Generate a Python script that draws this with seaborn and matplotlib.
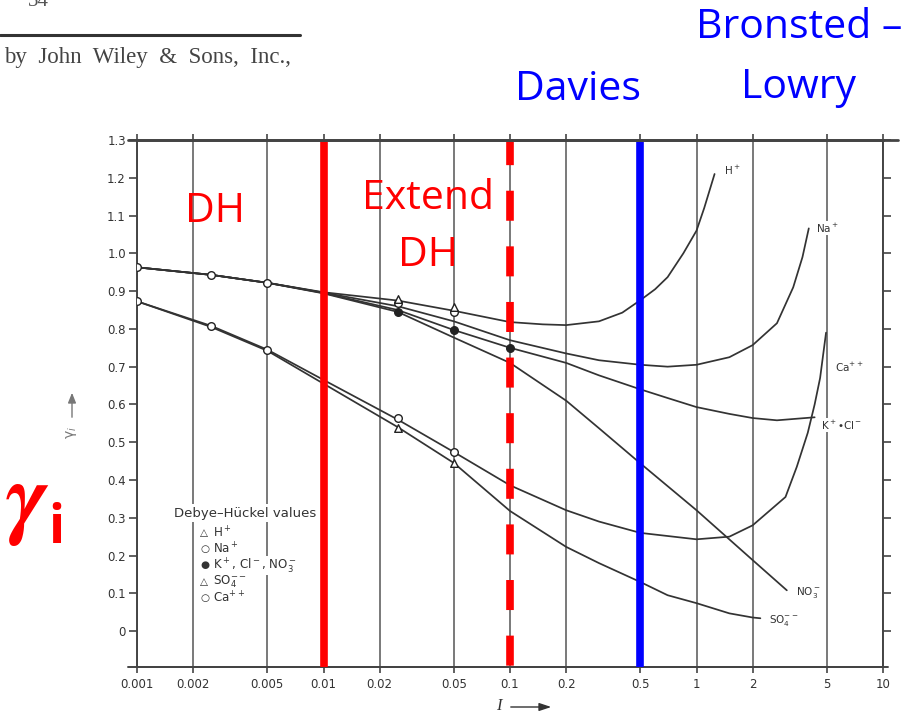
import numpy as np
import pandas as pd
import matplotlib
matplotlib.use("Agg")
import matplotlib.pyplot as plt
import seaborn as sns

# Axis ticks
x_ticks = [0.001, 0.002, 0.005, 0.01, 0.02, 0.05, 0.1, 0.2, 0.5, 1, 2, 5, 10]
x_tick_labels = ["0.001", "0.002", "0.005", "0.01", "0.02", "0.05", "0.1",
                 "0.2", "0.5", "1", "2", "5", "10"]
y_ticks = [0, 0.1, 0.2, 0.3, 0.4, 0.5, 0.6, 0.7, 0.8, 0.9, 1.0, 1.1, 1.2, 1.3]
y_tick_labels = ["0", "0.1", "0.2", "0.3", "0.4", "0.5", "0.6", "0.7", "0.8",
                 "0.9", "1.0", "1.1", "1.2", "1.3"]

# Activity coefficient curves: ionic strength I and gamma_i
h_I = [0.001, 0.0025, 0.005, 0.01, 0.025, 0.05, 0.1, 0.15, 0.2, 0.3, 0.4, 0.5,
       0.6, 0.7, 0.85, 1.0, 1.1, 1.25]
h_gamma = [0.963, 0.943, 0.922, 0.897, 0.875, 0.848, 0.818, 0.812, 0.81, 0.82,
           0.843, 0.876, 0.905, 0.937, 1.0, 1.06, 1.12, 1.21]

na_I = [0.001, 0.0025, 0.005, 0.01, 0.025, 0.05, 0.1, 0.2, 0.3, 0.5, 0.7, 1.0,
        1.5, 2.0, 2.7, 3.3, 3.7, 4.0]
na_gamma = [0.963, 0.943, 0.922, 0.896, 0.86, 0.82, 0.77, 0.735, 0.717, 0.705,
            0.70, 0.705, 0.725, 0.757, 0.815, 0.91, 0.99, 1.066]

kcl_I = [0.001, 0.0025, 0.005, 0.01, 0.025, 0.05, 0.1, 0.2, 0.3, 0.5, 0.7, 1.0,
         1.5, 2.0, 2.7, 4.3]
kcl_gamma = [0.963, 0.943, 0.922, 0.895, 0.85, 0.797, 0.75, 0.71, 0.677, 0.64,
             0.617, 0.593, 0.575, 0.564, 0.558, 0.566]

no3_I = [0.001, 0.0025, 0.005, 0.01, 0.025, 0.05, 0.1, 0.2, 0.3, 0.5, 1.0, 2.0, 3.05]
no3_gamma = [0.963, 0.943, 0.922, 0.894, 0.845, 0.777, 0.71, 0.61, 0.537, 0.444,
             0.32, 0.188, 0.108]

ca_I = [0.001, 0.0025, 0.005, 0.01, 0.025, 0.05, 0.1, 0.2, 0.3, 0.5, 1.0, 1.5,
        2.0, 3.0, 3.45, 3.95, 4.3, 4.6, 4.95]
ca_gamma = [0.873, 0.808, 0.745, 0.665, 0.56, 0.474, 0.386, 0.32, 0.29, 0.26,
            0.243, 0.25, 0.28, 0.355, 0.435, 0.525, 0.60, 0.67, 0.79]

so4_I = [0.001, 0.0025, 0.005, 0.01, 0.025, 0.05, 0.1, 0.2, 0.3, 0.5, 0.7, 1.0,
         1.5, 2.0, 2.2]
so4_gamma = [0.873, 0.805, 0.742, 0.655, 0.54, 0.445, 0.318, 0.223, 0.18, 0.13,
             0.095, 0.074, 0.047, 0.036, 0.034]

# Debye-Hueckel point values
dh_I = [0.001, 0.0025, 0.005, 0.025, 0.025, 0.025, 0.05, 0.05, 0.05, 0.1,
        0.001, 0.0025, 0.005, 0.025, 0.025, 0.05, 0.05]
dh_gamma = [0.963, 0.943, 0.922, 0.878, 0.868, 0.846, 0.857, 0.845, 0.796, 0.749,
            0.873, 0.807, 0.745, 0.563, 0.537, 0.474, 0.444]
dh_shape = ["circle", "circle", "circle", "triangle", "circle", "filled",
            "triangle", "circle", "filled", "filled",
            "circle", "circle", "circle", "circle", "triangle", "circle", "triangle"]

# Model validity limits
dh_limit = 0.01
extended_dh_limit = 0.1
davies_limit = 0.5

W, H = 913, 714
INK = "#333333"

sns.set_theme(style="white")
plt.rcParams["font.family"] = ["DejaVu Sans"]

fig = plt.figure(figsize=(W / 100, H / 100), dpi=100)
fig.patch.set_facecolor("white")
ax = fig.add_axes([137 / W, 1 - 667 / H, (883 - 137) / W, (667 - 140) / H])


def px(x, y):
    return x / W, 1 - y / H


curves = {
    "H+": (h_I, h_gamma),
    "Na+": (na_I, na_gamma),
    "K+Cl-": (kcl_I, kcl_gamma),
    "NO3-": (no3_I, no3_gamma),
    "Ca++": (ca_I, ca_gamma),
    "SO4--": (so4_I, so4_gamma),
}
df = pd.concat(
    [pd.DataFrame({"I": I, "gamma": g, "ion": name}) for name, (I, g) in curves.items()],
    ignore_index=True,
)

ax.set_xscale("log")
ax.set_xlim(0.001, 10)
ax.set_ylim(-0.095, 1.30)

sns.lineplot(data=df, x="I", y="gamma", units="ion", estimator=None, sort=False,
             color=INK, lw=1.25, ax=ax, zorder=3)

dh = pd.DataFrame({"I": dh_I, "gamma": dh_gamma, "shape": dh_shape})
for shape, marker, face in [("circle", "o", "white"), ("triangle", "^", "white"),
                            ("filled", "o", "#222222")]:
    sub = dh[dh["shape"] == shape]
    sns.scatterplot(data=sub, x="I", y="gamma", marker=marker, s=30, color=face,
                    edgecolor="#222222", linewidth=1.0, ax=ax, zorder=7, legend=False)

# Regime boundaries
y_top = 1.295
ax.plot([dh_limit, dh_limit], [y_top, -0.095], color="#ff0000", lw=5.5,
        solid_capstyle="butt", zorder=6)
ax.plot([extended_dh_limit, extended_dh_limit], [y_top, -0.095], color="#ff0000",
        lw=5.5, linestyle=(0.9, (3.93, 3.35)), dash_capstyle="butt", zorder=6)
ax.plot([davies_limit, davies_limit], [y_top, -0.095], color="#0000ff", lw=5.5,
        solid_capstyle="butt", zorder=6)

# Grid, ticks and frame
ax.set_xticks(x_ticks)
ax.set_xticklabels(x_tick_labels)
ax.xaxis.set_minor_locator(matplotlib.ticker.NullLocator())
ax.set_yticks(y_ticks)
ax.set_yticklabels(y_tick_labels)
ax.grid(axis="x", which="major", color="#555555", lw=1.1, zorder=1)
ax.grid(axis="y", visible=False)
ax.set_xlabel("")
ax.set_ylabel("")
ax.tick_params(axis="both", labelsize=8.5, labelcolor=INK, color="#444444", width=1.2)
ax.tick_params(axis="y", direction="out", length=6, pad=2, right=True, left=True)
ax.tick_params(axis="x", direction="out", length=4, pad=4, top=True, bottom=True)
for side in ["left", "right", "top", "bottom"]:
    ax.spines[side].set_color("#444444")
    ax.spines[side].set_linewidth(1.4)
ax.spines["top"].set_linewidth(2.0)
ax.plot([-0.012, 1.02], [1, 1], transform=ax.transAxes, color="#444444", lw=2.0,
        clip_on=False, zorder=5)
ax.plot([-0.012, 1.007], [0, 0], transform=ax.transAxes, color="#444444", lw=1.4,
        clip_on=False, zorder=5)

# Curve labels
lab = dict(fontsize=7.5, color=INK, ha="left", va="center",
           bbox=dict(facecolor="white", edgecolor="none", pad=0.6), zorder=7)
fig.text(*px(724, 170), "H$^+$", **lab)
fig.text(*px(816, 228), "Na$^+$", **lab)
fig.text(*px(835, 367), "Ca$^{++}$", **lab)
fig.text(*px(821, 425), "K$^+$•Cl$^-$", **lab)
fig.text(*px(796, 592), "NO$_3^-$", **lab)
fig.text(*px(769, 620), "SO$_4^{--}$", **lab)

# Debye-Hueckel key
fig.text(*px(174, 513), "Debye–Hückel values", fontsize=9.5, color=INK,
         ha="left", va="center", bbox=dict(facecolor="white", edgecolor="none", pad=1.5))
key_rows = [("△", "H$^+$"), ("○", "Na$^+$"), ("●", "K$^+$, Cl$^-$, NO$_3^-$"),
            ("△", "SO$_4^{--}$"), ("○", "Ca$^{++}$")]
for i, (glyph, label) in enumerate(key_rows):
    yy = 533 + i * 16.2
    fig.text(*px(200, yy), glyph, fontsize=7.5, color=INK, ha="left", va="center")
    fig.text(*px(213, yy), label, fontsize=8.6, color=INK, ha="left", va="center",
             bbox=dict(facecolor="white", edgecolor="none", pad=0.3))

# Axis titles with long arrows
fig.text(*px(71, 432), "γ$_i$", rotation=90, fontsize=10, color="#777777",
         ha="center", va="center")
ax.annotate("", xy=px(72, 390), xytext=px(72, 420), xycoords="figure fraction",
            textcoords="figure fraction",
            arrowprops=dict(arrowstyle="-|>,head_length=0.5,head_width=0.2",
                            color="#777777", lw=1.0))
fig.text(*px(499, 706), "I", fontsize=12, family=["Liberation Serif"],
         style="italic", color=INK, ha="center", va="center")
ax.annotate("", xy=px(554, 707), xytext=px(508, 707), xycoords="figure fraction",
            textcoords="figure fraction",
            arrowprops=dict(arrowstyle="-|>,head_length=0.6,head_width=0.2",
                            color=INK, lw=1.0))

# Annotations
big = dict(family=["Open Sans", "DejaVu Sans"], fontsize=29.5, ha="center", va="center")
fig.text(*px(215, 212), "DH", color="#ff0000", **big)
fig.text(*px(428, 199), "Extend", color="#ff0000", **big)
fig.text(*px(428, 256), "DH", color="#ff0000", **big)
fig.text(*px(578, 90), "Davies", color="#0000ff", **big)
fig.text(*px(799, 28), "Bronsted –", color="#0000ff", **big)
fig.text(*px(798, 88), "Lowry", color="#0000ff", **big)

fig.text(*px(6, 527), "γ", family=["STIXGeneral", "DejaVu Sans"], fontsize=66,
         weight="bold", style="italic", color="#ff0000", ha="left", va="baseline")
fig.text(*px(48, 543), "i", family=["Open Sans", "DejaVu Sans"], fontsize=38,
         weight="bold", color="#ff0000", ha="left", va="baseline")

# Page header
fig.add_artist(matplotlib.lines.Line2D([0, 300 / W], [1 - 35 / H, 1 - 35 / H],
                                       color="#333333", lw=2.2))
fig.text(*px(4, 57), "by  John  Wiley  &  Sons,  Inc.,", family=["Liberation Serif"],
         fontsize=16.5, color="#444444", ha="left", va="center")
fig.text(*px(28, 6), "34", family=["Liberation Serif"], fontsize=15,
         color="#555555", ha="left", va="baseline")

fig.savefig("out.png", dpi=100, facecolor="white")
